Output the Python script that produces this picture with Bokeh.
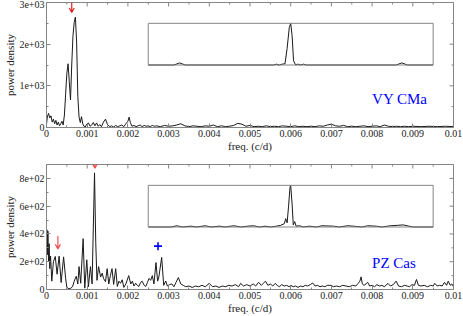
import math
from bokeh.plotting import figure
from bokeh.models import (Range1d, FixedTicker, CustomJSTickFormatter,
                          BoxAnnotation, PolyAnnotation, Label)
from bokeh.layouts import column
from bokeh.embed import file_html
from bokeh.resources import INLINE

MCD = 1e-3  # frequencies below are typed in units of 1e-3 c/d

# ---------------- data ----------------
vy_freq_mcd = [
    0.00, 0.02, 0.05, 0.08, 0.11, 0.14, 0.17, 0.20, 0.23, 0.26,
    0.29, 0.32, 0.35, 0.38, 0.41, 0.44, 0.47, 0.50, 0.53, 0.56,
    0.59, 0.62, 0.65, 0.68, 0.71, 0.74, 0.77, 0.80, 0.83, 0.86,
    0.89, 0.92, 0.95, 0.99, 1.03, 1.07, 1.11, 1.15, 1.19, 1.23,
    1.27, 1.31, 1.35, 1.40, 1.45, 1.50, 1.55, 1.60, 1.65, 1.70,
    1.75, 1.80, 1.85, 1.90, 1.95, 2.00, 2.03, 2.06, 2.10, 2.15,
    2.20, 2.25, 2.30, 2.35, 2.40, 2.45, 2.50, 2.55, 2.60, 2.65,
    2.70, 2.80, 2.90, 3.00, 3.10, 3.20, 3.30, 3.40, 3.50, 3.60,
    3.70, 3.80, 3.90, 4.00, 4.10, 4.20, 4.30, 4.40, 4.50, 4.60,
    4.70, 4.80, 4.90, 5.00, 5.10, 5.20, 5.30, 5.40, 5.50, 5.60,
    5.70, 5.80, 5.90, 6.00, 6.10, 6.20, 6.30, 6.40, 6.50, 6.60,
    6.70, 6.80, 6.90, 7.00, 7.10, 7.20, 7.30, 7.40, 7.50, 7.60,
    7.70, 7.80, 7.90, 8.00, 8.10, 8.20, 8.30, 8.40, 8.50, 8.60,
    8.70, 8.80, 8.90, 9.00, 9.20, 9.40, 9.60, 9.80, 10.0,
]
vy_power = [
    80, 250, 340, 230, 280, 130, 200, 90, 170, 60,
    130, 40, 90, 150, 60, 300, 800, 1300, 1530, 1100,
    660, 1500, 2200, 2520, 2650, 2050, 740, 250, 120, 260,
    90, 30, 10, 80, 110, 30, 60, 120, 40, 110,
    30, 70, 20, 130, 200, 70, 20, 40, 10, 50,
    20, 40, 60, 20, 90, 150, 250, 120, 30, 50,
    20, 40, 60, 20, 50, 30, 40, 20, 50, 30,
    40, 20, 50, 30, 40, 60, 90, 40, 20, 40,
    30, 20, 40, 30, 60, 20, 40, 20, 30, 50,
    100, 80, 30, 50, 20, 30, 20, 40, 20, 30,
    20, 40, 30, 20, 40, 20, 30, 20, 30, 20,
    40, 30, 60, 80, 40, 30, 50, 20, 30, 20,
    30, 40, 20, 30, 40, 20, 60, 30, 20, 30,
    20, 30, 20, 30, 20, 30, 20, 30, 20,
]

pz_freq_mcd = [
    0.00, 0.01, 0.02, 0.035, 0.05, 0.065, 0.08, 0.10, 0.13, 0.17,
    0.215, 0.26, 0.31, 0.36, 0.42, 0.47, 0.50, 0.55, 0.60, 0.64,
    0.68, 0.73, 0.77, 0.80, 0.84, 0.90, 0.94, 0.99, 1.03, 1.08,
    1.12, 1.18, 1.21, 1.24, 1.28, 1.33, 1.37, 1.40, 1.45, 1.49,
    1.53, 1.57, 1.61, 1.65, 1.70, 1.74, 1.78, 1.82, 1.86, 1.90,
    1.95, 2.02, 2.07, 2.11, 2.15, 2.19, 2.23, 2.27, 2.31, 2.35,
    2.40, 2.44, 2.48, 2.52, 2.56, 2.60, 2.64, 2.69, 2.73, 2.76,
    2.83, 2.88, 2.93, 2.97, 3.02, 3.08, 3.13, 3.18, 3.24, 3.30,
    3.36, 3.42, 3.50, 3.58, 3.66, 3.74, 3.82, 3.90, 4.00, 4.08,
    4.16, 4.24, 4.32, 4.40, 4.48, 4.56, 4.64, 4.72, 4.77, 4.84,
    4.92, 5.00, 5.08, 5.14, 5.21, 5.28, 5.33, 5.38, 5.44, 5.50,
    5.56, 5.62, 5.67, 5.72, 5.78, 5.84, 5.90, 5.96, 6.00, 6.06,
    6.12, 6.18, 6.24, 6.30, 6.36, 6.42, 6.48, 6.54, 6.60, 6.66,
    6.72, 6.78, 6.84, 6.90, 6.99, 7.05, 7.12, 7.20, 7.28, 7.36,
    7.44, 7.52, 7.60, 7.66, 7.70, 7.73, 7.76, 7.80, 7.85, 7.89,
    7.94, 8.00, 8.06, 8.12, 8.18, 8.24, 8.30, 8.39, 8.45, 8.52,
    8.59, 8.65, 8.72, 8.80, 8.86, 8.92, 8.98, 9.04, 9.09, 9.14,
    9.20, 9.28, 9.36, 9.44, 9.50, 9.54, 9.60, 9.66, 9.72, 9.78,
    9.83, 9.87, 9.92, 9.96, 10.0,
]
pz_power = [
    300, 430, 250, 420, 200, 330, 150, 240, 60, 200,
    238, 110, 240, 50, 235, 80, 15, 5, 10, 20,
    60, 95, 40, 165, 45, 366, 10, 214, 20, 165,
    40, 840, 340, 66, 165, 90, 118, 80, 56, 150,
    40, 100, 150, 37, 150, 22, 60, 45, 70, 15,
    40, 100, 40, 60, 25, 45, 30, 22, 50, 60,
    30, 22, 50, 80, 66, 100, 40, 194, 60, 90,
    231, 30, 61, 25, 35, 40, 20, 50, 86, 40,
    30, 20, 25, 15, 25, 20, 30, 20, 44, 20,
    25, 15, 25, 20, 30, 25, 35, 20, 44, 25,
    35, 25, 40, 25, 52, 30, 45, 60, 30, 40,
    25, 44, 30, 20, 35, 25, 30, 20, 30, 20,
    25, 15, 25, 20, 30, 25, 35, 47, 25, 30,
    20, 25, 20, 30, 30, 20, 25, 20, 30, 25,
    20, 30, 25, 45, 60, 91, 40, 30, 40, 52,
    25, 30, 20, 35, 25, 30, 20, 44, 25, 35,
    60, 25, 20, 30, 25, 20, 35, 30, 72, 30,
    25, 30, 20, 30, 25, 44, 25, 30, 25, 52,
    30, 60, 30, 40, 20,
]

# spectral windows shown in the insets (relative freq in 1e-3 c/d, normalised power)
vy_win_freq = [-10, -8.2, -7.8, -7.4, -1.2, -1.0, -0.8, -0.6, -0.4, -0.25, -0.1, 0.0,
               0.1, 0.2, 0.35, 0.5, 0.7, 0.9, 1.1, 1.3, 7.4, 7.8, 8.2, 10]
vy_win_power = [0, 0, 0.05, 0, 0, 0.02, 0, 0.02, 0.03, 0.4, 0.9, 1.0,
                0.7, 0.1, 0.0, 0.02, 0.0, 0.02, 0.0, 0, 0, 0.05, 0, 0]
pz_win_freq = [-10, -8.4, -8.0, -7.6, -7.0, -6.6, -6.0, -5.6, -5.0, -4.6, -4.0, -3.5,
               -3.0, -2.6, -2.2, -1.8, -1.4, -1.0, -0.7, -0.45, -0.35, -0.25, -0.15, -0.05,
               0.0, 0.1, 0.18, 0.28, 0.38, 0.6, 0.9, 1.3, 1.8, 2.2, 3.0, 3.4,
               4.0, 4.4, 5.0, 5.4, 6.0, 6.4, 7.0, 7.5, 7.9, 8.3, 8.6, 10]
pz_win_power = [0, 0, 0.03, 0, 0.02, 0, 0.03, 0, 0.02, 0, 0.03, 0,
                0.02, 0.03, 0, 0.02, 0, 0.02, 0.04, 0.08, 0.2, 0.1, 0.5, 0.95,
                1.0, 0.55, 0.05, 0.13, 0.02, 0.03, 0.0, 0.02, 0, 0.03, 0.02, 0,
                0.03, 0.02, 0, 0.03, 0.02, 0, 0.03, 0.04, 0.05, 0.02, 0, 0]

# axis ticks
x_ticks_mcd = [0, 1, 2, 3, 4, 5, 6, 7, 8, 9, 10]
x_tick_labels = ["0", "0.001", "0.002", "0.003", "0.004", "0.005", "0.006",
                 "0.007", "0.008", "0.009", "0.01"]
x_minor_mcd = [0.5, 1.5, 2.5, 3.5, 4.5, 5.5, 6.5, 7.5, 8.5, 9.5]
vy_y_ticks = [0, 1000, 2000, 3000]
vy_y_labels = ["0", "1e+03", "2e+03", "3e+03"]
vy_y_minor = [500, 1500, 2500]
pz_y_ticks = [0, 200, 400, 600, 800]
pz_y_labels = ["0", "2e+02", "4e+02", "6e+02", "8e+02"]
pz_y_minor = [100, 300, 500, 700, 900]

# marked frequencies: arrows (freq, tail power, tip power) and a cross
vy_arrow_freq = [0.62]
vy_arrow_tail = [3060]
vy_arrow_tip = [2760]
pz_arrow_freq = [1.19, 0.28]
pz_arrow_tail = [975, 385]
pz_arrow_tip = [873, 292]
pz_cross_freq = [2.74]
pz_cross_power = [312]

FONT = "Times"
GRAY = "#858585"
CURVE = "#1a1a1a"
X_MAX = 0.01
HEAD_HALF_W = 0.06 * MCD  # arrow head half-width in freq units

x_ticks = [t * MCD for t in x_ticks_mcd]
x_minor = [t * MCD for t in x_minor_mcd]


def fmt(ticks, labels):
    return CustomJSTickFormatter(
        args=dict(tvals=ticks, tlabels=labels),
        code="for (let i = 0; i < tvals.length; i++) { if (Math.abs(tvals[i] - tick) <= 1e-9 * Math.max(1, Math.abs(tick))) return tlabels[i]; } return '';")


def style_axis(ax, ticks, labels, minor, label):
    ax.ticker = FixedTicker(ticks=ticks, minor_ticks=minor)
    ax.formatter = fmt(ticks, labels)
    ax.major_tick_in = 4
    ax.major_tick_out = 0
    ax.minor_tick_in = 2
    ax.minor_tick_out = 0
    ax.axis_line_color = GRAY
    ax.major_tick_line_color = GRAY
    ax.minor_tick_line_color = GRAY
    ax.major_label_text_font = FONT
    ax.major_label_text_color = "#222222"
    ax.major_label_text_font_size = "10px"
    ax.major_label_standoff = 2
    ax.axis_label = label
    ax.axis_label_text_font = FONT
    ax.axis_label_text_font_style = "normal"
    ax.axis_label_text_color = "#222222"
    ax.axis_label_text_font_size = "11px"
    ax.axis_label_standoff = 0


def make_panel(height, y_max, y_ticks, y_labels, y_minor, border_top):
    p = figure(width=462, height=height, x_range=Range1d(0, X_MAX), y_range=Range1d(0, y_max),
               output_backend="svg", toolbar_location=None,
               min_border_left=46, min_border_right=9, min_border_top=border_top,
               min_border_bottom=0)
    p.grid.visible = False
    p.outline_line_color = GRAY
    p.background_fill_color = "white"
    p.border_fill_color = "white"
    style_axis(p.xaxis[0], x_ticks, x_tick_labels, x_minor, "freq. (c/d)")
    style_axis(p.yaxis[0], y_ticks, y_labels, y_minor, "power density")
    # mirrored inward ticks on the top and right frame edges
    p.scatter(x=x_ticks, y=[y_max] * len(x_ticks), marker="dash", angle=math.pi / 2,
              size=8, line_color=GRAY, line_width=1)
    p.scatter(x=x_minor, y=[y_max] * len(x_minor), marker="dash", angle=math.pi / 2,
              size=4, line_color=GRAY, line_width=1)
    p.scatter(x=[X_MAX] * len(y_ticks), y=y_ticks, marker="dash",
              size=8, line_color=GRAY, line_width=1)
    p.scatter(x=[X_MAX] * len(y_minor), y=y_minor, marker="dash",
              size=4, line_color=GRAY, line_width=1)
    return p


def add_inset(p, win_f, win_p, bottom, top):
    box = BoxAnnotation(left=2.5 * MCD, right=9.5 * MCD, bottom=bottom, top=top,
                        fill_color=None, fill_alpha=0, line_color=GRAY, line_width=1,
                        line_alpha=1)
    p.add_layout(box)
    sub = p.subplot(x_source=Range1d(-10, 10), y_source=Range1d(0, 1),
                    x_target=Range1d(2.5 * MCD, 9.5 * MCD), y_target=Range1d(bottom, top))
    sub.line(x=win_f, y=win_p, line_color=CURVE, line_width=1)


def add_arrows(p, freqs, tails, tips, head_h, color):
    for f, y0, y1 in zip(freqs, tails, tips):
        x = f * MCD
        xs = [x, x, x - HEAD_HALF_W, x, x + HEAD_HALF_W, x]
        ys = [y0, y1, y1 + head_h, y1, y1 + head_h, y1]
        p.add_layout(PolyAnnotation(xs=xs, ys=ys, fill_color=None, fill_alpha=0,
                                    line_color=color, line_alpha=1, line_width=1.2))


# ---------------- top panel: VY CMa ----------------
p1 = make_panel(154, 3000, vy_y_ticks, vy_y_labels, vy_y_minor, 2)
p1.line(x=[f * MCD for f in vy_freq_mcd], y=vy_power, line_color=CURVE, line_width=1)
add_inset(p1, vy_win_freq, vy_win_power, 1500, 2500)
add_arrows(p1, vy_arrow_freq, vy_arrow_tail, vy_arrow_tip, 110, "#e02020")
p1.add_layout(Label(x=8.0 * MCD, y=500, text="VY CMa", text_font=FONT,
                    text_font_size="15px", text_color="blue"))

# ---------------- bottom panel: PZ Cas ----------------
p2 = make_panel(162, 900, pz_y_ticks, pz_y_labels, pz_y_minor, 10)
p2.line(x=[f * MCD for f in pz_freq_mcd], y=pz_power, line_color=CURVE, line_width=1)
add_inset(p2, pz_win_freq, pz_win_power, 450, 750)
add_arrows(p2, pz_arrow_freq, pz_arrow_tail, pz_arrow_tip, 33, "#f05050")
p2.scatter(x=[f * MCD for f in pz_cross_freq], y=pz_cross_power, marker="cross",
           size=8, line_width=1.6, line_color="blue")
p2.add_layout(Label(x=8.0 * MCD, y=135, text="PZ Cas", text_font=FONT,
                    text_font_size="15px", text_color="blue"))

layout = column(p1, p2, spacing=0)
open("out.html", "w").write(file_html(layout, INLINE))
